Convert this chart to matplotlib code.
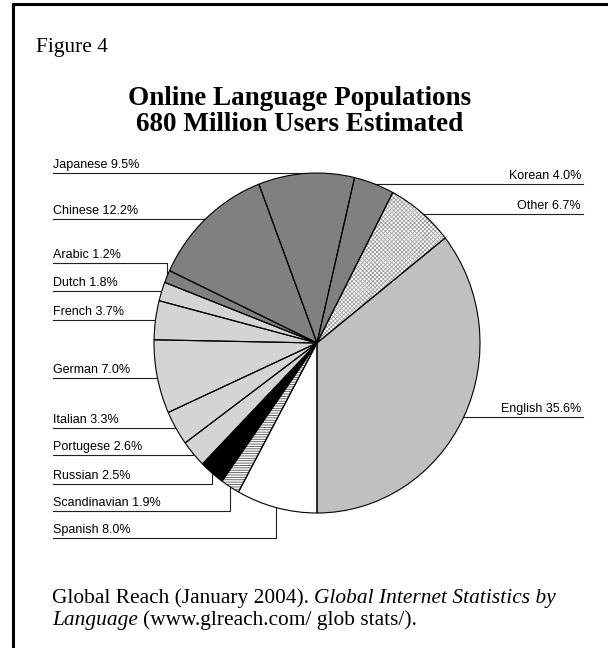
import numpy as np
import matplotlib.pyplot as plt

# ── data ────────────────────────────────────────────────────
languages = ['English', 'Other', 'Korean', 'Japanese', 'Chinese', 'Arabic',
             'Dutch', 'French', 'German', 'Italian', 'Portugese', 'Russian',
             'Scandinavian', 'Spanish']
shares = [35.6, 6.7, 4.0, 9.5, 12.2, 1.2, 1.8, 3.7, 7.0, 3.3, 2.6, 2.5, 1.9, 8.0]

# ── styles ──────────────────────────────────────────────────
DARK = '#808080'
LIGHT = '#d4d4d4'
slice_colors = {
    'English': '#c0c0c0', 'Other': 'white', 'Korean': DARK, 'Japanese': DARK,
    'Chinese': DARK, 'Arabic': DARK, 'Dutch': LIGHT, 'French': LIGHT,
    'German': LIGHT, 'Italian': LIGHT, 'Portugese': LIGHT, 'Russian': 'black',
    'Scandinavian': 'white', 'Spanish': 'white',
}
hatches = {'Other': ('xxxxxxxx', '#a0a0a0'), 'Scandinavian': ('-------', '#505050')}

# label layout (pixel rows of the underline)
right_side = ['English', 'Other', 'Korean']
label_row = {
    'Japanese': 173, 'Chinese': 219, 'Arabic': 263, 'Dutch': 291,
    'French': 320, 'German': 378, 'Italian': 428, 'Portugese': 455,
    'Russian': 484, 'Scandinavian': 511, 'Spanish': 538,
    'Korean': 184, 'Other': 214, 'English': 417,
}

plt.rcParams['hatch.linewidth'] = 0.6

W, H = 608, 648
fig = plt.figure(figsize=(W / 100, H / 100), dpi=100)
fig.patch.set_facecolor('white')

bg = fig.add_axes([0, 0, 1, 1])
bg.set_xlim(0, W)
bg.set_ylim(H, 0)
bg.axis('off')

# pie is drawn slightly taller than wide, as in the original
cx, cy, rx, ry = 317, 343, 163, 170
pie_ax = fig.add_axes([(cx - rx) / W, 1 - (cy + ry) / H, 2 * rx / W, 2 * ry / H])
wedges, _ = pie_ax.pie(shares, colors=[slice_colors[l] for l in languages],
                       startangle=-90, counterclock=True,
                       wedgeprops=dict(linewidth=0))
for w, lang in zip(wedges, languages):
    if lang in hatches:
        w.set_hatch(hatches[lang][0])
        w.set_edgecolor(hatches[lang][1])
pie_ax.pie(shares, startangle=-90, counterclock=True,
           wedgeprops=dict(fill=False, edgecolor='black', linewidth=0.8))
pie_ax.set_aspect('auto')
pie_ax.set_xlim(-1, 1)
pie_ax.set_ylim(-1, 1)

to_px = bg.transData.inverted()
lab_font = dict(family='Liberation Sans', fontsize=9, color='black')
for w, lang, val in zip(wedges, languages, shares):
    mid = np.radians((w.theta1 + w.theta2) / 2)
    px, py = to_px.transform(pie_ax.transData.transform((np.cos(mid), np.sin(mid))))
    ly = label_row[lang]
    text = f'{lang} {val:.1f}%'
    if lang in right_side:
        bg.plot([583, px, px], [ly, ly, py], color='#202020', lw=0.8)
        bg.text(581, ly - 5, text, ha='right', va='baseline', **lab_font)
    else:
        bg.plot([53, px, px], [ly, ly, py], color='#202020', lw=0.8)
        bg.text(53, ly - 5, text, ha='left', va='baseline', **lab_font)

# titles
serif = 'Liberation Serif'
bg.text(36, 52, 'Figure 4', family=serif, fontsize=15.4, va='baseline')
bg.text(300, 105, 'Online Language Populations', family=serif, fontsize=19.5,
        fontweight='bold', ha='center', va='baseline')
bg.text(300, 131, '680 Million Users Estimated', family=serif, fontsize=19.5,
        fontweight='bold', ha='center', va='baseline')

# source note, mixed upright / italic
renderer = fig.canvas.get_renderer()
t1 = bg.text(52, 603, 'Global Reach (January 2004).', family=serif, fontsize=15.4,
             va='baseline')
w1 = t1.get_window_extent(renderer).width
bg.text(52 + w1 + 5, 603, 'Global Internet Statistics by', family=serif,
        fontsize=15.4, style='italic', va='baseline')
t3 = bg.text(52, 625, 'Language', family=serif, fontsize=15.4, style='italic',
             va='baseline')
w3 = t3.get_window_extent(renderer).width
bg.text(52 + w3 + 5, 625, '(www.glreach.com/ glob stats/).', family=serif,
        fontsize=15.4, va='baseline')

# frame: top and left rules only
bg.plot([12, W], [4, 4], color='black', lw=2.2, solid_capstyle='butt')
bg.plot([13, 13], [3, H], color='black', lw=2.2, solid_capstyle='butt')

fig.savefig('out.png', dpi=100, facecolor='white')
